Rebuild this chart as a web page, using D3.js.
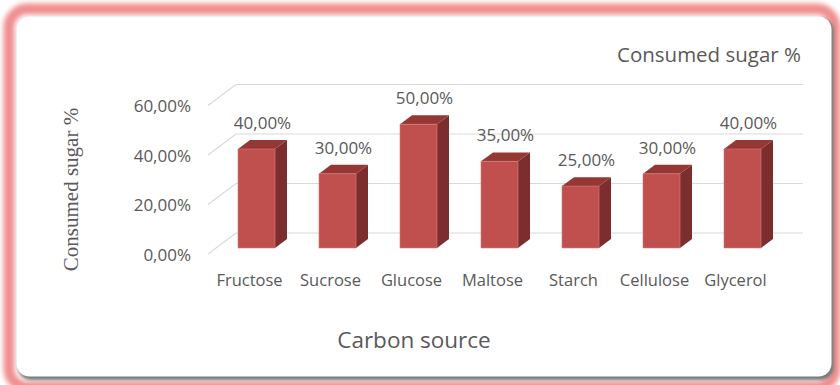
<!DOCTYPE html>
<html>
<head>
<meta charset="utf-8">
<script src="https://cdn.jsdelivr.net/npm/d3@7"></script>
<style>
  html, body { margin: 0; padding: 0; background: #ffffff; }
  svg { display: block; }
</style>
</head>
<body>
<svg id="chart" width="840" height="385"></svg>
<script>
// Carbon sources and the share of sugar consumed on each (percent)
const categories = ["Fructose", "Sucrose", "Glucose", "Maltose", "Starch", "Cellulose", "Glycerol"];
const consumed = [40, 30, 50, 35, 25, 30, 40];
const yTicks = [0, 20, 40, 60];

const W = 840, H = 385;
const svg = d3.select("#chart");
const textColor = "#595959";
const gridColor = "#d9d9d9";

// Depth offset of the 3-D box (screen pixels from front plane to back wall)
const DX = 28, DY = 21;
// Bars occupy the middle slice of the depth
const zFront = 0.286, zBack = 0.714;

const x = d3.scaleBand().domain(categories).range([208, 775]).padding(0);
const y = d3.scaleLinear().domain([0, 60]).range([254, 105.5]);
const barW = x.bandwidth() * 0.457;

const proj = (px, v, z) => [px + z * DX, y(v) - z * DY];
const fmt = v => d3.format(".2f")(v).replace(".", ",") + "%";

// ---- frame: pink glow, soft grey shadow, white rounded panel ----
const defs = svg.append("defs");
defs.append("filter").attr("id", "glow").attr("x", "-5%").attr("y", "-5%").attr("width", "110%").attr("height", "110%")
  .append("feGaussianBlur").attr("stdDeviation", 2.5);
defs.append("filter").attr("id", "shade").attr("x", "-5%").attr("y", "-5%").attr("width", "110%").attr("height", "110%")
  .append("feGaussianBlur").attr("stdDeviation", 1.8);

svg.append("rect").attr("x", 9).attr("y", 9).attr("width", 826).attr("height", 378)
  .attr("rx", 18).attr("fill", "none").attr("stroke", "#f08e8e").attr("stroke-width", 11)
  .attr("filter", "url(#glow)");
svg.append("rect").attr("x", 18).attr("y", 18).attr("width", 816).attr("height", 362)
  .attr("rx", 13).attr("fill", "#7a7a7a").attr("filter", "url(#shade)");
svg.append("rect").attr("x", 16.5).attr("y", 16.5).attr("width", 815).attr("height", 360)
  .attr("rx", 13).attr("fill", "#ffffff");

// ---- gridlines on the back wall plus the left diagonal edges ----
const grid = svg.append("g").attr("stroke", gridColor).attr("stroke-width", 1.2).attr("fill", "none");
const xl = x.range()[0], xr = x.range()[1];
yTicks.forEach(t => {
  const a = proj(xl, t, 0), b = proj(xl, t, 1), c = proj(xr, t, 1);
  grid.append("polyline").attr("points", [a, b, c].map(p => p.join(",")).join(" "));
});

// ---- y axis tick labels ----
const yAxis = d3.axisLeft(y).tickValues(yTicks).tickFormat(fmt).tickSize(0).tickPadding(0);
const ya = svg.append("g").attr("transform", "translate(191,0)").call(yAxis);
ya.select(".domain").remove();
ya.selectAll("text").attr("fill", textColor).attr("font-family", "'Open Sans', sans-serif")
  .attr("font-size", 17).attr("dy", "0.36em");

// ---- 3-D bars ----
const bars = svg.append("g");
categories.forEach((c, i) => {
  const v = consumed[i];
  const x0 = x(c) + (x.bandwidth() - barW) / 2, x1 = x0 + barW;
  const ftl = proj(x0, v, zFront), ftr = proj(x1, v, zFront);
  const fbl = proj(x0, 0, zFront), fbr = proj(x1, 0, zFront);
  const btl = proj(x0, v, zBack), btr = proj(x1, v, zBack), bbr = proj(x1, 0, zBack);
  const pts = arr => arr.map(p => p.join(",")).join(" ");
  bars.append("polygon").attr("points", pts([ftr, fbr, bbr, btr])).attr("fill", "#7b2e2d");
  bars.append("polygon").attr("points", pts([ftl, ftr, btr, btl])).attr("fill", "#953735");
  bars.append("polygon").attr("points", pts([fbl, fbr, ftr, ftl])).attr("fill", "#c0504d")
    .attr("stroke", "#d77b78").attr("stroke-width", 0.6);

  // value label above the bar
  svg.append("text").attr("x", (ftl[0] + ftr[0]) / 2 + 6).attr("y", ftl[1] - 20)
    .attr("text-anchor", "middle").attr("fill", textColor)
    .attr("font-family", "'Open Sans', sans-serif").attr("font-size", 17)
    .text(fmt(v));

  // category label
  svg.append("text").attr("x", x(c) + x.bandwidth() / 2 + 1).attr("y", 285.7)
    .attr("text-anchor", "middle").attr("fill", textColor)
    .attr("font-family", "'Open Sans', sans-serif").attr("font-size", 16.5)
    .text(c);
});

// ---- titles ----
svg.append("text").attr("x", 801).attr("y", 62).attr("text-anchor", "end")
  .attr("fill", textColor).attr("font-family", "'Open Sans', sans-serif").attr("font-size", 20.5)
  .text("Consumed sugar %");

svg.append("text").attr("x", 414).attr("y", 348).attr("text-anchor", "middle")
  .attr("fill", textColor).attr("font-family", "'Open Sans', sans-serif").attr("font-size", 22.5)
  .text("Carbon source");

svg.append("text").attr("transform", "translate(78,189.5) rotate(-90)").attr("text-anchor", "middle")
  .attr("fill", textColor).attr("font-family", "'Liberation Serif', 'Times New Roman', serif").attr("font-size", 21)
  .text("Consumed sugar %");
</script>
</body>
</html>
